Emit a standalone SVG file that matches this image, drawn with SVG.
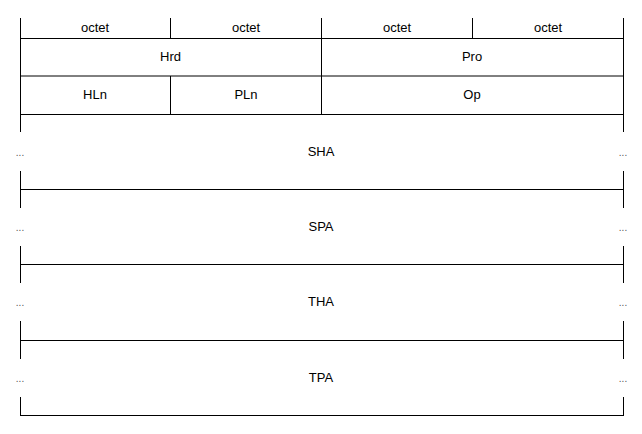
<svg xmlns="http://www.w3.org/2000/svg" width="642" height="434" viewBox="0 0 642 434">
<style>
.l{stroke:#000;stroke-width:1;fill:none}
.g{stroke:#000;stroke-width:1;fill:none}
.t{font-family:"Liberation Sans",Arial,sans-serif;font-size:13px;fill:#000;text-anchor:middle}
.d{font-family:"Liberation Sans",Arial,sans-serif;font-size:10px;fill:#555;text-anchor:middle}
</style>
<rect width="642" height="434" fill="#fff"/>
<g id="connectors">
<path class="l" d="M20.5 18V132M623.5 18V132M170.5 18V38M321.5 18V114M472.5 18V38M170.5 76V114M20 38.5H624M20 114.5H624"/>
<path class="g" d="M20 76H624"/>
<path class="l" d="M20.5 171V208M623.5 171V208M20 189.5H624"/>
<path class="l" d="M20.5 246V283M623.5 246V283M20 264.5H624"/>
<path class="l" d="M20.5 321V359M623.5 321V359M20 340.5H624"/>
<path class="l" d="M20.5 397V415.5M623.5 397V415.5M20 415.5H624"/>
</g>
<g id="octet1"><text class="t" x="95" y="32">octet</text></g>
<g id="octet2"><text class="t" x="246" y="32">octet</text></g>
<g id="octet3"><text class="t" x="397" y="32">octet</text></g>
<g id="octet4"><text class="t" x="548" y="32">octet</text></g>
<g id="hrd"><text class="t" x="170.5" y="61">Hrd</text></g>
<g id="pro"><text class="t" x="472" y="61">Pro</text></g>
<g id="hln"><text class="t" x="95" y="99">HLn</text></g>
<g id="pln"><text class="t" x="246" y="99">PLn</text></g>
<g id="op"><text class="t" x="472" y="99">Op</text></g>
<g id="sha"><text class="t" x="321" y="156">SHA</text><text class="d" x="20" y="156">...</text><text class="d" x="623" y="156">...</text></g>
<g id="spa"><text class="t" x="321" y="231">SPA</text><text class="d" x="20" y="231">...</text><text class="d" x="623" y="231">...</text></g>
<g id="tha"><text class="t" x="321" y="306">THA</text><text class="d" x="20" y="306">...</text><text class="d" x="623" y="306">...</text></g>
<g id="tpa"><text class="t" x="321" y="382">TPA</text><text class="d" x="20" y="382">...</text><text class="d" x="623" y="382">...</text></g>
</svg>
